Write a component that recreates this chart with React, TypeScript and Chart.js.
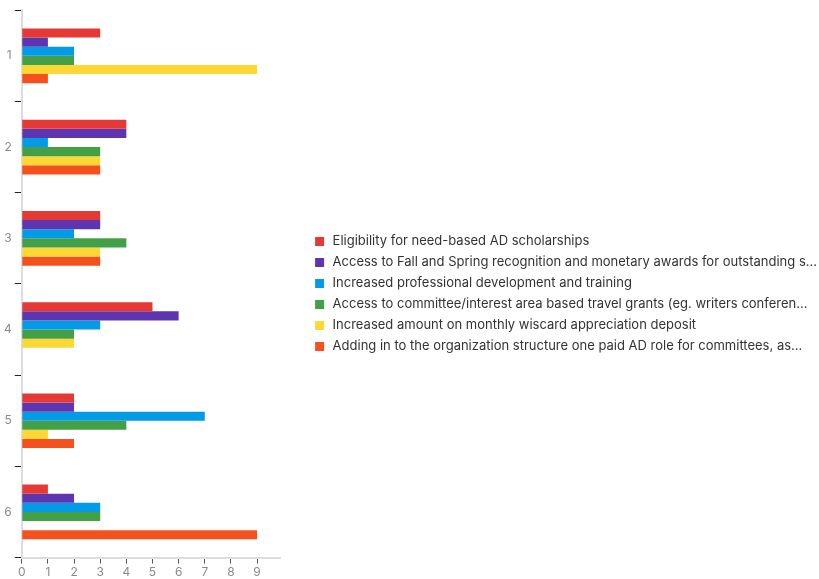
import { useEffect, useRef } from 'react';
import { Chart, registerables } from 'chart.js';

Chart.register(...registerables);

const categories = ['1', '2', '3', '4', '5', '6'];

const seriesLabels = [
  'Eligibility for need-based AD scholarships',
  'Access to Fall and Spring recognition and monetary awards for outstanding s...',
  'Increased professional development and training',
  'Access to committee/interest area based travel grants (eg. writers conferen...',
  'Increased amount on monthly wiscard appreciation deposit',
  'Adding in to the organization structure one paid AD role for committees, as...',
];

const eligibility = [3, 4, 3, 5, 2, 1];
const fallSpringAwards = [1, 4, 3, 6, 2, 2];
const professionalDev = [2, 1, 2, 3, 7, 3];
const travelGrants = [2, 3, 4, 2, 4, 3];
const wiscardDeposit = [9, 3, 3, 2, 1, null];
const paidAdRole = [1, 3, 3, null, 2, 9];

const seriesValues = [
  eligibility,
  fallSpringAwards,
  professionalDev,
  travelGrants,
  wiscardDeposit,
  paidAdRole,
];

const seriesColors = ['#E53935', '#5E35B1', '#039BE5', '#43A047', '#FDD835', '#F4511E'];

const xTickValues = [0, 1, 2, 3, 4, 5, 6, 7, 8, 9];

const LEGEND_EXTRA_WIDTH = 17;
const LEGEND_SHIFT = 25;
const LEGEND_SHIFT_Y = -2;

const legendGapPlugin = {
  id: 'legendGap',
  beforeLayout(chart: any) {
    const lg: any = chart.legend;
    if (!lg || lg.__gapPatched) return;
    lg.__gapPatched = true;
    const fit = lg.fit;
    lg.fit = function () {
      fit.call(this);
      this.width += LEGEND_EXTRA_WIDTH;
    };
    const draw = lg.draw;
    lg.draw = function (...args: any[]) {
      const oldRight = this.right;
      const oldTop = this.top;
      const oldBottom = this.bottom;
      this.left += LEGEND_SHIFT;
      this.top += LEGEND_SHIFT_Y;
      this.bottom += LEGEND_SHIFT_Y;
      this.right = Math.max(oldRight, this.left + this.width);
      draw.apply(this, args);
      this.left -= LEGEND_SHIFT;
      this.right = oldRight;
      this.top = oldTop;
      this.bottom = oldBottom;
    };
  },
};

export default function App() {
  const canvasRef = useRef<HTMLCanvasElement | null>(null);

  useEffect(() => {
    if (!canvasRef.current) return;
    const chart = new Chart(canvasRef.current, {
      type: 'bar',
      data: {
        labels: categories,
        datasets: seriesLabels.map((label, i) => ({
          label,
          data: seriesValues[i],
          backgroundColor: seriesColors[i],
          borderWidth: 0,
          categoryPercentage: 0.6,
          barPercentage: 1,
        })),
      },
      options: {
        indexAxis: 'y',
        animation: false,
        responsive: true,
        maintainAspectRatio: false,
        layout: { padding: { top: 10, left: 1, right: 0, bottom: -3 } },
        plugins: {
          tooltip: { enabled: false },
          legend: {
            position: 'right',
            maxWidth: 700,
            labels: {
              usePointStyle: true,
              pointStyle: 'rect',
              boxHeight: 9,
              padding: 8,
              color: '#333333',
              font: { family: 'Inter', size: 13 },
            },
          },
        },
        scales: {
          x: {
            min: 0,
            max: 9.88,
            afterBuildTicks: (scale: any) => {
              scale.ticks = xTickValues.map((v) => ({ value: v }));
            },
            grid: {
              display: true,
              drawOnChartArea: false,
              drawTicks: true,
              tickLength: 6,
              color: '#555',
            },
            border: { display: true, color: '#dddddd', width: 2 },
            ticks: {
              color: '#8a8a8a',
              padding: 2,
              font: { family: 'Inter', size: 12 },
            },
          },
          y: {
            grid: {
              display: true,
              offset: true,
              drawOnChartArea: false,
              drawTicks: true,
              tickLength: 7,
              color: (ctx: any) => (ctx.index === categories.length ? 'rgba(0,0,0,0)' : '#222'),
            },
            border: { display: true, color: '#dddddd', width: 2 },
            ticks: {
              color: '#8a8a8a',
              padding: 3,
              font: { family: 'Inter', size: 12 },
            },
          },
        },
      },
      plugins: [legendGapPlugin],
    });
    return () => chart.destroy();
  }, []);

  return (
    <div style={{ position: 'fixed', left: 0, top: 0, width: 819, height: 579, background: '#fff' }}>
      <canvas ref={canvasRef} />
    </div>
  );
}
